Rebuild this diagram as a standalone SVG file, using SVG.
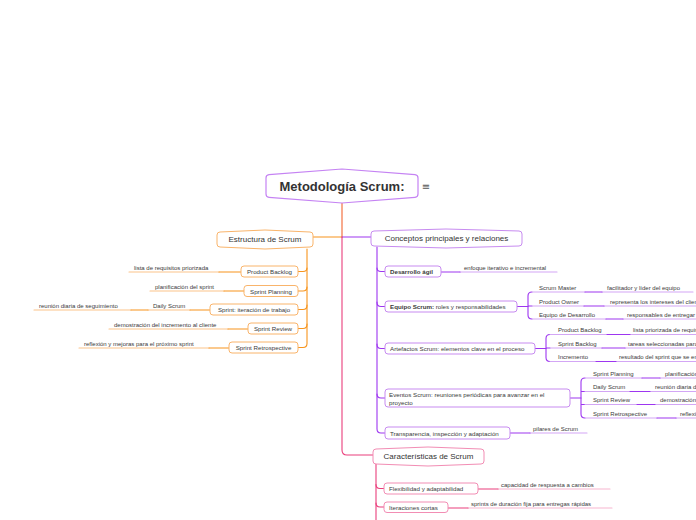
<svg xmlns="http://www.w3.org/2000/svg" width="696" height="520" viewBox="0 0 696 520">
<style>
text{font-family:"Liberation Sans",Arial,sans-serif;fill:#3a3a3a}
.t{font-size:6px}
.n{font-size:6.2px}
.m{font-size:8px;text-anchor:middle;fill:#333}
.b{font-weight:bold}
.c{fill:none;stroke-width:1.1;stroke-linecap:round}
.o{stroke:#f7941d}.ol{stroke:#fbc48a}
.p{stroke:#9d36f0}.pl{stroke:#d3a6f5}
.k{stroke:#ea3f7c}.kl{stroke:#f7b6cf}
.bo{fill:#fff;stroke:#f9b46b;stroke-width:1}
.bp{fill:#fff;stroke:#c78bf0;stroke-width:1}
.bk{fill:#fff;stroke:#f28db4;stroke-width:1}
</style>
<rect width="696" height="520" fill="#fff"/>
<g id="connectors">
<path class="c" stroke="#f26430" d="M342,203 L342,237"/>
<path class="c o" d="M342,237 L313,237"/>
<path class="c p" d="M342,237 L371,237"/>
<path class="c k" d="M342,237 L342,450 Q342,455 347,455 L373,455"/>
<path class="c o" d="M307,249 L307,268 Q307,271.5 303,271.5 L298,271.5"/>
<path class="c o" d="M307,268 L307,287 Q307,291 303,291 L298,291"/>
<path class="c o" d="M307,287 L307,305.5 Q307,309.5 303,309.5 L298,309.5"/>
<path class="c o" d="M307,305 L307,324.5 Q307,328.5 303,328.5 L298,328.5"/>
<path class="c o" d="M307,324 L307,343.5 Q307,347.5 303,347.5 L298,347.5"/>
<path class="c ol" d="M129,272 L219,272"/><path class="c o" d="M219,272 L241,272"/>
<path class="c ol" d="M150,291 L224,291"/><path class="c o" d="M224,291 L244,291"/>
<path class="c ol" d="M148,310 L190,310"/><path class="c o" d="M190,310 L210,310"/>
<path class="c ol" d="M34,310 L131,310"/><path class="c o" d="M131,310 L148,310"/>
<path class="c ol" d="M109,329 L228,329"/><path class="c o" d="M228,329 L248,329"/>
<path class="c ol" d="M79,348 L209,348"/><path class="c o" d="M209,348 L229,348"/>
<path class="c p" d="M377,247 L377,268 Q377,271.5 381,271.5 L385,271.5"/>
<path class="c p" d="M377,268 L377,302.5 Q377,306.5 381,306.5 L385,306.5"/>
<path class="c p" d="M377,302 L377,344.5 Q377,348.5 381,348.5 L385,348.5"/>
<path class="c p" d="M377,344 L377,394 Q377,398 381,398 L385,398"/>
<path class="c p" d="M377,394 L377,429 Q377,433 381,433 L385,433"/>
<path class="c pl" d="M460,272 L557,272"/><path class="c p" d="M441,272 L460,272"/>
<path class="c p" d="M517,306.5 L528,306.5"/>
<path class="c p" d="M532,292 Q528,292 528,296 L528,315 Q528,319 532,319 M528,306 L532,306"/>
<path class="c pl" d="M532,292 L585,292 M602,292 L693,292"/><path class="c p" d="M585,292 L602,292"/>
<path class="c pl" d="M532,306 L584,306 M604,306 L700,306"/><path class="c p" d="M584,306 L604,306"/>
<path class="c pl" d="M532,319 L606,319 M623,319 L700,319"/><path class="c p" d="M606,319 L623,319"/>
<path class="c p" d="M535,348.5 L546,348.5"/>
<path class="c p" d="M550,334.5 Q546,334.5 546,338.5 L546,357.5 Q546,361.5 550,361.5 M546,348 L550,348"/>
<path class="c pl" d="M550,334.5 L607,334.5 M630,334.5 L700,334.5"/><path class="c p" d="M607,334.5 L630,334.5"/>
<path class="c pl" d="M550,348 L602,348 M625,348 L700,348"/><path class="c p" d="M602,348 L625,348"/>
<path class="c pl" d="M550,361.5 L596,361.5 M616,361.5 L700,361.5"/><path class="c p" d="M596,361.5 L616,361.5"/>
<path class="c p" d="M570,398 L581,398"/>
<path class="c p" d="M585,378 Q581,378 581,382 L581,414 Q581,418 585,418 M581,391.5 L585,391.5 M581,404.5 L585,404.5"/>
<path class="c pl" d="M585,378 L642,378 M660,378 L700,378"/><path class="c p" d="M642,378 L660,378"/>
<path class="c pl" d="M585,391.5 L630,391.5 M650,391.5 L700,391.5"/><path class="c p" d="M630,391.5 L650,391.5"/>
<path class="c pl" d="M585,404.5 L637,404.5 M655,404.5 L700,404.5"/><path class="c p" d="M637,404.5 L655,404.5"/>
<path class="c pl" d="M585,418 L657,418 M676,418 L700,418"/><path class="c p" d="M657,418 L676,418"/>
<path class="c pl" d="M530,433 L587,433"/><path class="c p" d="M510,433 L530,433"/>
<path class="c k" d="M376,464 L376,520"/>
<path class="c k" d="M376,484.5 Q376,488.5 380,488.5 L384,488.5"/>
<path class="c k" d="M376,503 Q376,507 380,507 L384,507"/>
<path class="c kl" d="M498,489 L610,489"/><path class="c k" d="M478,489 L498,489"/>
<path class="c kl" d="M468,508 L612,508"/><path class="c k" d="M448,508 L468,508"/>
</g>
<g id="root">
<path d="M266,178 Q266,175 269,174.7 L342,169 L415,174.7 Q418,175 418,178 L418,194 Q418,197 415,197.3 L342,203 L269,197.3 Q266,197 266,194 Z" fill="#fff" stroke="#c583f3" stroke-width="1.2"/>
<text x="342" y="191" text-anchor="middle" font-size="13" font-weight="bold" style="fill:#333">Metodología Scrum:</text>
<text x="426" y="190" text-anchor="middle" font-size="10" style="fill:#555;font-family:'DejaVu Sans',sans-serif">≡</text>
</g>
<g id="estructura">
<path class="bo" d="M220,232 L265,230 L310,232 Q313,232 313,235 L313,244 Q313,247 310,247 L265,249 L220,247 Q217,247 217,244 L217,235 Q217,232 220,232 Z"/>
<text class="m" x="265" y="241.5">Estructura de Scrum</text>
</g>
<g id="conceptos">
<path class="bp" d="M374,231 L446,229 L519,231 Q522,231 522,234 L522,243 Q522,246 519,246 L446,248 L374,246 Q371,246 371,243 L371,234 Q371,231 374,231 Z"/>
<text class="m" x="446.5" y="241">Conceptos principales y relaciones</text>
</g>
<g id="caracteristicas">
<path class="bk" d="M376,449 L428,447 L481,449 Q484,449 484,452 L484,461 Q484,464 481,464 L428,466 L376,464 Q373,464 373,461 L373,452 Q373,449 376,449 Z"/>
<text class="m" x="428.5" y="459">Características de Scrum</text>
</g>
<g id="e-product-backlog"><rect class="bo" x="241" y="266" width="57" height="11" rx="3"/><text class="n" x="269.5" y="274" text-anchor="middle">Product Backlog</text></g>
<g id="e-sprint-planning"><rect class="bo" x="244" y="285.5" width="54" height="11" rx="3"/><text class="n" x="271" y="293.5" text-anchor="middle">Sprint Planning</text></g>
<g id="e-sprint"><rect class="bo" x="210" y="304" width="88" height="11" rx="3"/><text class="n" x="254" y="312" text-anchor="middle">Sprint: iteración de trabajo</text></g>
<g id="e-sprint-review"><rect class="bo" x="248" y="323" width="50" height="11" rx="3"/><text class="n" x="273" y="331" text-anchor="middle">Sprint Review</text></g>
<g id="e-sprint-retro"><rect class="bo" x="229" y="342" width="69" height="11" rx="3"/><text class="n" x="263.5" y="350" text-anchor="middle">Sprint Retrospective</text></g>
<g id="e-labels">
<text class="t" x="134" y="269.5">lista de requisitos priorizada</text>
<text class="t" x="155" y="288.5">planificación del sprint</text>
<text class="t" x="153" y="307.5">Daily Scrum</text>
<text class="t" x="39" y="307.5">reunión diaria de seguimiento</text>
<text class="t" x="114" y="326.5">demostración del incremento al cliente</text>
<text class="t" x="84" y="345.5">reflexión y mejoras para el próximo sprint</text>
</g>
<g id="c-desarrollo"><rect class="bp" x="385" y="266" width="56" height="11" rx="3"/><text class="n b" x="390" y="274">Desarrollo ágil</text></g>
<g id="c-equipo"><rect class="bp" x="385" y="301" width="132" height="11" rx="3"/><text class="n" x="390" y="309"><tspan class="b">Equipo Scrum:</tspan> roles y responsabilidades</text></g>
<g id="c-artefactos"><rect class="bp" x="385" y="343" width="150" height="11" rx="3"/><text class="n" x="390" y="351">Artefactos Scrum: elementos clave en el proceso</text></g>
<g id="c-eventos"><rect class="bp" x="385" y="389" width="185" height="18" rx="3"/><text class="n" x="389" y="396.5">Eventos Scrum: reuniones periódicas para avanzar en el</text><text class="n" x="389" y="404.5">proyecto</text></g>
<g id="c-transparencia"><rect class="bp" x="385" y="427" width="125" height="12" rx="3"/><text class="n" x="390" y="435.5">Transparencia, inspección y adaptación</text></g>
<g id="c-labels">
<text class="t" x="464" y="269.5">enfoque iterativo e incremental</text>
<text class="t" x="539" y="289.5">Scrum Master</text>
<text class="t" x="607" y="289.5">facilitador y líder del equipo</text>
<text class="t" x="539" y="303.5">Product Owner</text>
<text class="t" x="610" y="303.5">representa los intereses del cliente</text>
<text class="t" x="539" y="316.5">Equipo de Desarrollo</text>
<text class="t" x="627" y="316.5">responsables de entregar el incremento</text>
<text class="t" x="558" y="332">Product Backlog</text>
<text class="t" x="633" y="332">lista priorizada de requisitos</text>
<text class="t" x="558" y="345.5">Sprint Backlog</text>
<text class="t" x="628" y="345.5">tareas seleccionadas para el sprint</text>
<text class="t" x="558" y="359">Incremento</text>
<text class="t" x="619" y="359">resultado del sprint que se entrega</text>
<text class="t" x="593" y="375.5">Sprint Planning</text>
<text class="t" x="665" y="375.5">planificación del trabajo</text>
<text class="t" x="593" y="389">Daily Scrum</text>
<text class="t" x="655" y="389">reunión diaria de seguimiento</text>
<text class="t" x="593" y="402">Sprint Review</text>
<text class="t" x="660" y="402">demostración del incremento</text>
<text class="t" x="593" y="415.5">Sprint Retrospective</text>
<text class="t" x="680" y="415.5">reflexión y mejoras</text>
<text class="t" x="533" y="430.5">pilares de Scrum</text>
</g>
<g id="k-flexibilidad"><rect class="bk" x="384" y="483" width="94" height="11" rx="3"/><text class="n" x="389" y="491">Flexibilidad y adaptabilidad</text></g>
<g id="k-iteraciones"><rect class="bk" x="384" y="502" width="64" height="10.5" rx="3"/><text class="n" x="389" y="509.5">Iteraciones cortas</text></g>
<g id="k-labels">
<text class="t" x="501" y="486.5">capacidad de respuesta a cambios</text>
<text class="t" x="471" y="505.5">sprints de duración fija para entregas rápidas</text>
</g>
</svg>
